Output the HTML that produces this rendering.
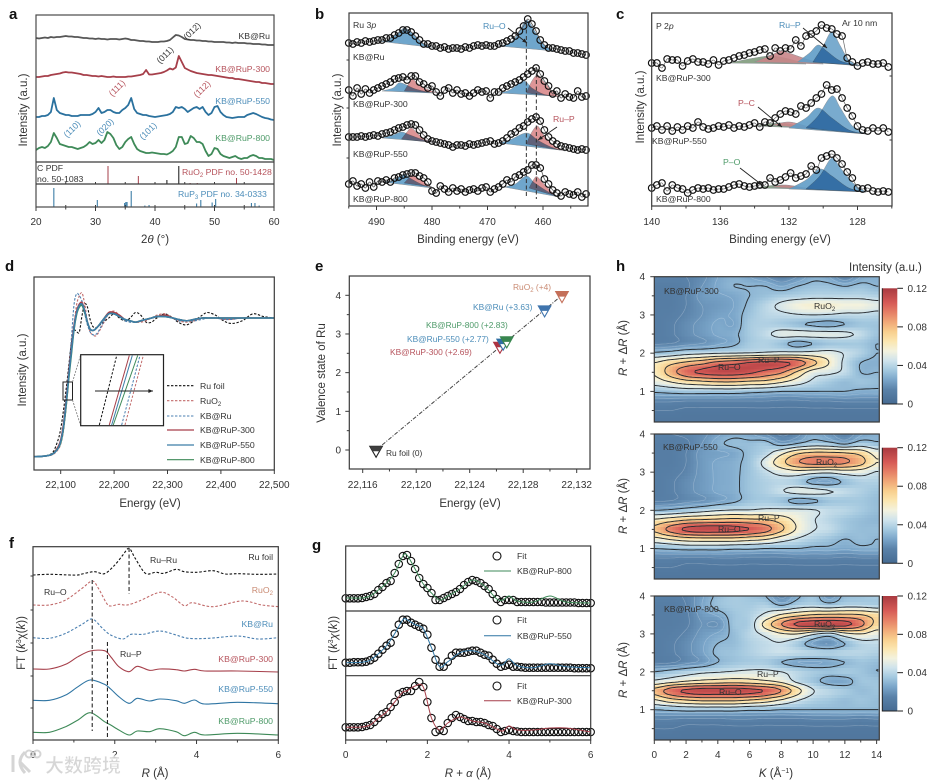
<!DOCTYPE html>
<html lang="en">
<head>
<meta charset="utf-8">
<title>Ru phosphide characterization panels</title>
<style>
html,body{margin:0;padding:0;background:#fff;width:934px;height:782px;overflow:hidden}
svg{display:block}
text{font-family:"Liberation Sans","Noto Sans CJK SC",sans-serif;fill:#333;font-size:10px}
.pl{font-size:15px;font-weight:bold;fill:#111}
.at{font-size:11.5px;fill:#333}
.lb{font-size:8.7px}
.lbe{font-size:8.4px}
.tk{font-size:10px;fill:#333}
.red{fill:#b6535c}.blu{fill:#4c8db9}.grn{fill:#4d9a68}.org{fill:#c98a72}
.it{font-style:italic}
</style>
</head>
<body>
<svg id="figure" xmlns="http://www.w3.org/2000/svg" width="934" height="782" viewBox="0 0 934 782">
<defs><linearGradient id="cbar" x1="0" y1="1" x2="0" y2="0"></linearGradient></defs>
<rect width="934" height="782" fill="#fff"/>
<g id="marks"></g>

<g>
<text class="pl" x="9" y="19">a</text>
<text class="pl" x="315" y="19">b</text>
<text class="pl" x="616" y="19">c</text>
<text class="pl" x="5" y="271">d</text>
<text class="pl" x="315" y="271">e</text>
<text class="pl" x="9" y="548">f</text>
<text class="pl" x="312" y="550">g</text>
<text class="pl" x="616" y="271">h</text>
</g>

<g>
<text class="at" transform="translate(27,110) rotate(-90)" text-anchor="middle">Intensity (a.u.)</text>
<text class="at" x="155" y="243" text-anchor="middle">2<tspan class="it">θ</tspan> (°)</text>
<text class="lb" x="270" y="39" text-anchor="end">KB@Ru</text>
<text class="lb red" x="270" y="72" text-anchor="end">KB@RuP-300</text>
<text class="lb blu" x="270" y="104" text-anchor="end">KB@RuP-550</text>
<text class="lb grn" x="270" y="141" text-anchor="end">KB@RuP-800</text>
<text class="lb" transform="translate(192,31) rotate(-45)" text-anchor="middle" dy="3">(012)</text>
<text class="lb" transform="translate(165,55) rotate(-45)" text-anchor="middle" dy="3">(011)</text>
<text class="lb red" transform="translate(117,88) rotate(-45)" text-anchor="middle" dy="3">(111)</text>
<text class="lb red" transform="translate(202,89) rotate(-45)" text-anchor="middle" dy="3">(112)</text>
<text class="lb blu" transform="translate(72,129) rotate(-45)" text-anchor="middle" dy="3">(110)</text>
<text class="lb blu" transform="translate(105,127) rotate(-45)" text-anchor="middle" dy="3">(020)</text>
<text class="lb blu" transform="translate(148,131) rotate(-45)" text-anchor="middle" dy="3">(101)</text>
<text class="lb" x="37" y="171">C PDF</text>
<text class="lb" x="37" y="182">no. 50-1083</text>
<text class="lb red" x="182" y="175">RuO<tspan font-size="6" dy="2">2</tspan><tspan dy="-2"> PDF no. 50-1428</tspan></text>
<text class="lb blu" x="178" y="197">RuP<tspan font-size="6" dy="2">3</tspan><tspan dy="-2"> PDF no. 34-0333</tspan></text>
</g>

<g>
<text class="at" transform="translate(341,110) rotate(-90)" text-anchor="middle">Intensity (a.u.)</text>
<text class="at" x="468" y="243" text-anchor="middle">Binding energy (eV)</text>
<text class="lb" x="353" y="28">Ru 3<tspan class="it">p</tspan></text>
<text class="lb" x="353" y="60">KB@Ru</text>
<text class="lb" x="353" y="107">KB@RuP-300</text>
<text class="lb" x="353" y="157">KB@RuP-550</text>
<text class="lb" x="353" y="202">KB@RuP-800</text>
<text class="lb blu" x="483" y="29">Ru–O</text>
<text class="lb red" x="553" y="122">Ru–P</text>
</g>

<g>
<text class="at" transform="translate(644,107) rotate(-90)" text-anchor="middle">Intensity (a.u.)</text>
<text class="at" x="780" y="243" text-anchor="middle">Binding energy (eV)</text>
<text class="lb" x="656" y="29">P 2<tspan class="it">p</tspan></text>
<text class="lb" x="656" y="81">KB@RuP-300</text>
<text class="lb" x="652" y="144">KB@RuP-550</text>
<text class="lb" x="656" y="202">KB@RuP-800</text>
<text class="lb blu" x="779" y="28">Ru–P</text>
<text class="lb" x="842" y="26">Ar 10 nm</text>
<text class="lb red" x="738" y="106">P–C</text>
<text class="lb grn" x="723" y="165">P–O</text>
</g>

<g>
<text class="at" transform="translate(26,370) rotate(-90)" text-anchor="middle">Intensity (a.u.)</text>
<text class="at" x="150" y="507" text-anchor="middle">Energy (eV)</text>
<text class="lb" x="200" y="389">Ru foil</text>
<text class="lb" x="200" y="404">RuO<tspan font-size="6" dy="2">2</tspan></text>
<text class="lb" x="200" y="419">KB@Ru</text>
<text class="lb" x="200" y="433">KB@RuP-300</text>
<text class="lb" x="200" y="448">KB@RuP-550</text>
<text class="lb" x="200" y="463">KB@RuP-800</text>
</g>

<g>
<text class="at" transform="translate(325,373) rotate(-90)" text-anchor="middle">Valence state of Ru</text>
<text class="at" x="470" y="507" text-anchor="middle">Energy (eV)</text>
<text class="lbe org" x="513" y="290">RuO<tspan font-size="6" dy="2">2</tspan><tspan dy="-2"> (+4)</tspan></text>
<text class="lbe blu" x="473" y="310">KB@Ru (+3.63)</text>
<text class="lbe grn" x="426" y="328">KB@RuP-800 (+2.83)</text>
<text class="lbe blu" x="407" y="342">KB@RuP-550 (+2.77)</text>
<text class="lbe red" x="390" y="355">KB@RuP-300 (+2.69)</text>
<text class="lbe" x="386" y="456">Ru foil (0)</text>
</g>

<g>
<text class="at" transform="translate(25,643) rotate(-90)" text-anchor="middle">FT (<tspan class="it">k</tspan><tspan font-size="7" dy="-4">3</tspan><tspan dy="4">χ(</tspan><tspan class="it">k</tspan>))</text>
<text class="at" x="155" y="777" text-anchor="middle"><tspan class="it">R</tspan> (Å)</text>
<text class="lb" x="273" y="560" text-anchor="end">Ru foil</text>
<text class="lb org" x="273" y="593" text-anchor="end">RuO<tspan font-size="6" dy="2">2</tspan></text>
<text class="lb blu" x="273" y="627" text-anchor="end">KB@Ru</text>
<text class="lb red" x="273" y="662" text-anchor="end">KB@RuP-300</text>
<text class="lb blu" x="273" y="692" text-anchor="end">KB@RuP-550</text>
<text class="lb grn" x="273" y="724" text-anchor="end">KB@RuP-800</text>
<text class="lb" x="150" y="563">Ru–Ru</text>
<text class="lb" x="44" y="595">Ru–O</text>
<text class="lb" x="120" y="657">Ru–P</text>
</g>

<g>
<text class="at" transform="translate(337,643) rotate(-90)" text-anchor="middle">FT (<tspan class="it">k</tspan><tspan font-size="7" dy="-4">3</tspan><tspan dy="4" class="it">χ</tspan>(<tspan class="it">k</tspan>))</text>
<text class="at" x="468" y="777" text-anchor="middle"><tspan class="it">R</tspan> + <tspan class="it">α</tspan> (Å)</text>
<text class="lb" x="517" y="559">Fit</text>
<text class="lb" x="517" y="574">KB@RuP-800</text>
<text class="lb" x="517" y="623">Fit</text>
<text class="lb" x="517" y="639">KB@RuP-550</text>
<text class="lb" x="517" y="689">Fit</text>
<text class="lb" x="517" y="704">KB@RuP-300</text>
</g>

<g id="h-text">
<text class="at" x="849" y="271">Intensity (a.u.)</text>
<text class="at" transform="translate(627,348) rotate(-90)" text-anchor="middle"><tspan class="it">R</tspan> + Δ<tspan class="it">R</tspan> (Å)</text>
<text class="at" transform="translate(627,506) rotate(-90)" text-anchor="middle"><tspan class="it">R</tspan> + Δ<tspan class="it">R</tspan> (Å)</text>
<text class="at" transform="translate(627,670) rotate(-90)" text-anchor="middle"><tspan class="it">R</tspan> + Δ<tspan class="it">R</tspan> (Å)</text>
<text class="at" x="776" y="777" text-anchor="middle"><tspan class="it">K</tspan> (Å<tspan font-size="7" dy="-4">−1</tspan><tspan dy="4">)</tspan></text>
<text class="lb" x="664" y="294" fill="#20303f">KB@RuP-300</text>
<text class="lb" x="718" y="370">Ru–O</text>
<text class="lb" x="758" y="363">Ru–P</text>
<text class="lb" x="814" y="309">RuO<tspan font-size="6" dy="2">2</tspan></text>
<text class="lb" x="663" y="450">KB@RuP-550</text>
<text class="lb" x="816" y="465">RuO<tspan font-size="6" dy="2">2</tspan></text>
<text class="lb" x="758" y="521">Ru–P</text>
<text class="lb" x="718" y="532">Ru–O</text>
<text class="lb" x="664" y="612">KB@RuP-800</text>
<text class="lb" x="814" y="627">RuO<tspan font-size="6" dy="2">2</tspan></text>
<text class="lb" x="757" y="677">Ru–P</text>
<text class="lb" x="719" y="695">Ru–O</text>
</g>

<g opacity="0.95">
<path d="M13 755 L13 772 M25 752 Q15 762 25 773 M20 762 L30 772" fill="none" stroke="#d3d3d3" stroke-width="3"/>
<circle cx="29" cy="754" r="3.5" fill="none" stroke="#d3d3d3" stroke-width="2"/>
<circle cx="37" cy="754" r="3.5" fill="none" stroke="#d3d3d3" stroke-width="2"/>
<text x="45" y="772" style="font-family:'Noto Sans CJK SC',sans-serif;font-size:19px;font-weight:bold;fill:#d4d4d4;stroke:#fff;stroke-width:.5">大数跨境</text>
</g>
</svg>

<script>
/* ---------- panel a: XRD ---------- */
const xrdAngleStart = 20;
const xrdAngleStep = 0.5;
const xrdRu = [124,123.5,124,124.5,124,125,124.5,125,125,125.5,126,125.5,125.5,125,125,124.5,124,124,123.5,123.5,123,123.5,123,123,122.5,123,123,123,122.5,123,123.5,123,122,122,121.5,121,121,120.5,120.5,120,120,120,120.5,120.5,121,122,124.5,127,126.5,125,123,122.5,122,122,121.5,121.5,121,121,120.5,120.5,120,120,120,120,119.5,119.5,119,119.5,119,119,119,118.5,118.5,118,118,118,117.5,117.5,117,117,117];
const xrd300 = [85,85,85.5,86,86,87,87.5,88,88.5,89.5,90,89.5,89.5,89,88.5,88,87,87,86.5,86,86,85.5,86,85.5,85,85,85.5,85,85,85,85,85.5,85.5,86,86.5,87,88,92,87.5,87.5,88,88.5,89,90,91.5,93.5,92.5,94.5,106,100,94,92.5,91,90,89,88.5,88,87.5,87,87,86.5,86,85.5,85,84.5,84,84,83,83,82.5,82,81.5,81,80.5,80,80,79,79,78.5,78,78];
const xrd550 = [45,45,46,46,47,50,64,52,49,48,47,47,46,46,46,47,47,47,47,48,50,54,49,50,52,52,50,49,49,52,54,57,64,53,49,48,47,47,46,45.5,45,45.5,46,46.5,47,48,50,55,54,55,53,50,52,54,55,53,55,50,47,49,55,56,50,47,45,44.5,44,44.5,45,45,45,47,48,49,48,46.5,45,44,43.5,42.5,42];
const xrd800 = [12,14,15,14,16,20,29,24,18,17,16,15,15,14,13,14,15,17,20,18,19,22,19,22,30,28,24,17,13,15,20,23,25,18,13,11,10,9,9,9.5,9,8.5,8,8,7.5,9,11,15,25,25,18,19,26,24,20,20,18,11,6,8,14,13,8,6,5,4,5,6,4,3,4,4,6,7,6,4,4,3,3,3,2];
const ruo2Angles = [32.1,37.2,53.7,45.9,47.1];
const ruo2Heights = [18,8,6,1,1];
const carbonAngles = [42,44];
const carbonHeights = [4,18];
const rup3Angles = [23,30.3,34.9,35.1,35.3,36,38.3,39,47,47.7,49.6,50.2,56.2,56.8,57.5];
const rup3Heights = [19,7,4,5,5,16,1.5,2,3.5,7,4.5,8,4,4,1.5];
const xrdTicks = [20,30,40,50,60];
const xrdMinor = [25,35,45,55];

/* ---------- panel b: Ru 3p XPS ---------- */
const beStart = 495;
const beStep = 0.75;
const xpsRu = [163,162,164,163,165,164,165,166,166,168,168,171,173,176,176,174,170,166,162,162,160,160,158,159,157,158,158,157,159,158,160,161,160,161,160,160,162,163,165,167,170,175,180,187,182,175,166,161,158,158,157,156,155,155,153,153,152,151];
const xps300 = [116,110,118,112,117,113,116,118,120,122,124,127,128,129,126,130,130,124,122,118,120,114,110,116,118,113,116,112,113,110,113,116,114,115,108,114,114,118,120,122,124,126,129,132,135,138,132,125,120,112,115,108,112,109,108,115,109,110];
const xps550 = [69,69,69,70,69,70,71,70,72,73,74,76,78,79,81,82,81,76,71,67,65,64,63,62,61,59,61,61,60,62,61,62,63,64,65,62,63,65,68,72,74,78,80,84,87,89,85,76,69,65,62,60,59,58,57,56,57,56];
const xps800 = [22,25,20,22,18,24,19,25,24,26,24,28,29,31,32,33,33,30,28,24,15,13,20,17,14,18,15,17,14,16,17,15,18,19,14,17,19,22,26,24,29,31,34,36,41,41,38,27,22,16,13,10,14,12,11,14,9,12];
const bBlueBE = [[490,488,486,485,484,482,480,479],[468,466,464.5,463,461.5,460,458],[489,487,486,485,483,480],[468,466,463.5,462,460,458],[489,487,485.5,484,482,480],[468,466,463,461,459,457],[489,487,485,484,482,480],[467,465,463,461.5,459,457]];
const bBlueVal = [[165,166,174,178,175,164,159,158],[160,163,172,186,175,162,155],[115,118,123,122,117,113],[113,116,125,118,112,110],[68,71,74,71,67,64],[63,66,73,66,60,56],[24,26,32,28,22,18],[19,22,30,23,14,9]];
const bRedBE = [[485,484,483.5,482,480,478],[463,462,461,460,458,457],[485.5,484.5,483.7,482.5,481,479],[463,462,461,460,458,456],[485,484,483.5,482,480],[462.5,461.5,461,460,458,457]];
const bRedVal = [[115,124,127,120,115,113],[113,125,131,125,113,109],[67,74,78,72,66,63],[62,74,80,72,60,55],[23,29,31,26,19],[18,28,29,23,12,9]];
const bTicks = [490,480,470,460];
const bMinor = [495,485,475,465,455];
const bGuides = [463,461.2];

/* ---------- panel c: P 2p XPS ---------- */
const pbeStart = 140;
const pbeStep = 0.3;
const p2p300 = [143,143,138,147,146,146,140,145,147,144,144,142,146,141,145,146,148,150,151,153,154,156,157,150,158,155,158,157,166,160,170,172,175,181,178,177,172,170,148,144,140,143,144,142,142,143,139];
const p2p550 = [78,80,76,80,75,79,76,80,78,84,79,77,78,80,79,81,78,80,79,81,83,79,84,83,88,92,95,94,92,100,98,103,108,112,121,116,117,108,98,90,80,76,75,78,75,78,74];
const p2p800 = [18,21,23,15,21,18,17,13,16,18,17,18,16,17,17,19,21,22,20,19,20,21,21,28,24,26,29,33,28,30,32,40,36,48,50,52,48,42,34,28,18,17,18,15,14,15,14];
const cGreenBE = [[135.5,134,133,132,131],[134,132.5,131],[134,132.5,131]];
const cGreenVal = [[143,148,150,147,142],[80,83,78],[18,21,17]];
const cRedBE = [[134,133,132.5,132,131,130],[133,132,131,130],[133,132.2,131,130]];
const cRedVal = [[144,151,155,153,147,142],[81,84,80,76],[19,21,18,16]];
const cBlue1BE = [[131.5,130.8,130.3,129.8,129,128],[132,131,130.3,129.5,128.5,127.5],[132,131,130.2,129.5,128.5,127.5]];
const cBlue1Val = [[144,153,161,155,145,141],[78,88,98,88,76,72],[17,26,37,30,18,14]];
const cBlue2BE = [[130.6,130,129.5,129,128.5,127.8],[131,130.3,129.5,129,128.3,127.5],[131,130.2,129.5,129,128.2,127.5]];
const cBlue2Val = [[144,160,174,160,146,140],[78,90,110,98,80,72],[17,30,48,38,22,14]];
const cTicks = [140,136,132,128];
const cMinor = [138,134,130,126];

/* ---------- panel d: XANES ---------- */
const xanesE = [22050,22070,22085,22095,22100,22105,22110,22115,22120,22125,22130,22135,22140,22145,22150,22155,22160,22165,22170,22180,22190,22200,22210,22220,22230,22240,22250,22260,22270,22280,22295,22310,22320,22335,22350,22365,22375,22390,22405,22420,22440,22460,22480,22500];
const xanesFoil = [0,.005,.03,.12,.2,.33,.48,.65,.82,.91,.9,.9,1.02,1.1,1.08,.99,.94,.93,.94,.97,1,1.03,1,.98,1,1.04,1.02,.97,.97,1,1.03,1,.97,.95,.98,1.02,1.04,1.02,.98,.96,.98,1.03,1.01,1];
const xanesRuO2 = [0,.003,.015,.05,.09,.18,.34,.55,.75,.95,1.1,1.16,1.18,1.1,.98,.9,.88,.87,.89,.96,1.03,1.05,1.02,.99,.98,.97,.97,.98,1,1.02,1.03,1,.98,.97,.98,1,1,1,.99,.99,1,1,1,1];
const xanesKBRu = [0,.003,.02,.06,.1,.2,.38,.62,.85,1.1,1.175,1.16,1.12,1.03,.95,.9,.88,.88,.9,.97,1.03,1.04,1.01,.98,.97,.97,.98,.99,1,1.01,1.02,1,.98,.98,.98,.99,1,1,.99,.99,1,1,1,1];
const xanes300 = [0,.004,.02,.07,.12,.23,.4,.6,.78,.95,1.05,1.1,1.11,1.05,.97,.92,.91,.92,.94,.99,1.04,1.04,1.02,.99,.98,.97,.98,.99,1,1.01,1.02,1,.99,.98,.99,1,1,1,1,1,1,1,1,1];
const xanes550 = [0,.004,.02,.06,.11,.21,.38,.58,.76,.93,1.04,1.09,1.1,1.05,.97,.92,.91,.92,.94,.99,1.03,1.03,1.01,.99,.98,.97,.98,.99,1,1.01,1.01,1,.99,.98,.99,1,1,1,1,1,1,1,1,1];
const xanes800 = [0,.004,.02,.06,.1,.2,.36,.56,.74,.92,1.03,1.08,1.09,1.04,.97,.92,.91,.92,.94,.99,1.03,1.03,1.01,.99,.98,.97,.98,.99,1,1.01,1.01,1,.99,.98,.99,1,1,1,1,1,1,1,1,1];
const insetLowE = [22110.25,22113.35,22112.95,22111.45,22111.74,22111.93];
const insetHighE = [22112.35,22115.56,22115.16,22113.87,22114.23,22114.88];
const dTicks = [22100,22200,22300,22400,22500];

/* ---------- panel e: valence ---------- */
const valenceNames = ['ru-foil','kb-rup-300','kb-rup-550','kb-rup-800','kb-ru','ruo2'];
const valenceE = [22117,22126.26,22126.5,22126.77,22129.6,22130.9];
const valenceState = [0,2.69,2.77,2.83,3.63,4];
const eXTicks = [22116,22120,22124,22128,22132];
const eYTicks = [0,1,2,3,4];

/* ---------- panel f: FT-EXAFS ---------- */
const rFoil = [0,.4,.9,1.1,1.2,1.5,1.75,2,2.2,2.35,2.5,2.75,3,3.2,3.5,3.7,4,4.4,4.7,5,5.5,6];
const ftFoil = [150,148,150,150,147,140,146,120,90,70,100,145,142,145,133,140,142,137,147,146,148,147];
const rRuO2 = [0,.4,.8,1.2,1.45,1.6,1.8,1.9,2.1,2.3,2.6,3.1,3.4,3.7,3.9,4.4,5.1,5.6,6];
const ftRuO2 = [240,240,225,190,168,190,235,243,238,240,228,202,215,242,233,245,228,240,245];
const rKBRu = [0,.4,.8,1.2,1.45,1.7,1.9,2.2,2.4,2.7,3.1,3.5,3.8,4.3,5,5.5,6];
const ftKBRu = [338,340,325,298,282,310,330,342,328,328,318,330,340,340,333,342,338];
const rRuP = [0,.4,.8,1.1,1.4,1.75,1.9,2.1,2.35,2.55,2.85,3.1,3.5,3.7,3.95,4.2,5,6];
const ft300 = [432,432,418,395,378,377,395,425,440,424,436,432,434,438,433,438,438,441];
const ft550 = [526,526,510,485,465,478,492,515,535,520,528,522,527,535,525,537,532,536];
const ft800 = [622,622,605,585,563,590,600,615,630,618,620,611,620,632,622,630,625,630];
const fTicks = [0,2,4,6];
const fMinor = [1,3,5];
const fGuides = [1.45,1.82,2.35];

/* ---------- panel g: EXAFS fits ---------- */
const gRStep = 0.1;
const gData800 = [12.7,12.7,12.7,12.7,13,14,15,17,21,24,28,30,38,47,55,56,50,42,33,27,23,18,11,11,13,15,17,19,22,26,29,31,30,28,25,22,17,12,9,11,11,11,9,9,9,9,9,9,9,8.5,8.5,8.5,8.5,8.5,8.5,8.5,8.5,8,8,8,8];
const gData550 = [13,13,13.5,13.5,13.5,14,15.5,18,22,26,30,33,42,51,56,56,53,51,49,47,41,28,16,9,9,14,20,23,23,23,24,25,25,23,21,20,16,12,9,10,11,9,9,8.5,8,8,8,8,8,8,8,8,8,8,8,8,7.5,7.5,7.5,7.5,7.5];
const gData300 = [12.7,12.7,12.7,12.7,13,14,15,18,22,26,28,33,38,46,48,49,49,54,58,53,38,22,8,10,9,17,22,25,23,21,19,19,18,18,17,15,14,11,8,9,10,9,8.5,8,8,8,8,8,8,8,8,8,8,8,8,8,8,8,8,8,8];
const gFitR = [0,.4,.6,.8,1,1.2,1.4,1.5,1.7,1.9,2.1,2.3,2.5,2.8,3.1,3.4,3.7,3.85,4,4.2,4.6,5,5.4,6];
const gFit800 = [13,13,15,21,28,38,55,56,42,27,18,11,15,22,31,25,12,11,15,10,9,15,9,8];
const gFit550 = [13,13.5,15.5,22,30,42,56,56,51,47,28,9,14,23,25,21,12,11,17,10,8,12,9,8];
const gFit300 = [12.7,13,15,22,28,38,48,49,54,53,22,10,17,23,19,17,11,9,14,10,10,12,12,8];

/* ---------- panel h: wavelet maps (rows R = 4.00 … 0.25, columns k = 0 … 14; units of 0.001) ---------- */
const map300 = [
[15,15,15,18,25,28,25,20,15,20,28,25,15,25,28],
[12,12,14,20,26,30,30,30,25,30,33,33,30,33,30],
[12,12,15,22,24,26,30,33,36,38,40,40,40,40,38],
[12,12,15,20,22,25,32,40,48,55,58,58,55,55,50],
[12,13,16,20,24,26,34,40,42,44,45,44,42,42,40],
[12,14,18,22,26,25,36,38,36,32,28,26,30,34,34],
[12,14,18,22,26,28,36,42,50,50,50,50,48,42,34],
[14,15,18,20,24,28,36,38,33,26,30,34,35,35,30],
[32,35,40,42,44,45,46,48,50,50,50,50,44,38,30],
[60,70,78,85,95,100,106,110,108,100,80,60,42,30,28],
[62,82,100,108,112,112,108,100,92,72,52,48,42,30,30],
[52,60,68,72,75,75,72,70,62,52,42,36,32,34,32],
[32,34,36,36,36,36,34,32,30,30,30,30,30,28,28],
[16,16,15,15,15,15,15,15,14,14,15,15,16,16,16],
[10,10,9,9,9,9,9,9,9,9,9,9,9,9,9],
[8,8,8,8,8,8,8,8,8,8,8,8,8,8,8]];
const map550 = [
[15,15,16,18,24,28,26,20,14,18,28,22,15,24,28],
[12,12,14,20,28,32,32,34,24,30,36,34,28,36,32],
[12,12,15,22,24,26,33,40,56,72,78,78,76,70,54],
[12,12,15,22,26,28,34,50,70,88,95,95,92,80,60],
[12,13,16,22,26,28,34,42,50,54,50,48,52,52,44],
[12,14,18,22,26,28,34,38,40,36,26,24,32,38,38],
[12,14,18,22,26,28,34,38,44,50,50,46,42,38,34],
[14,15,18,20,24,28,34,36,33,26,28,34,35,35,32],
[30,32,36,40,44,46,46,48,48,48,46,42,40,36,32],
[62,68,74,76,78,80,78,76,68,56,46,40,35,32,30],
[78,95,108,112,112,110,105,96,78,58,46,42,35,32,32],
[55,62,68,70,70,70,66,62,52,44,38,34,30,32,30],
[30,32,34,34,34,32,32,30,30,30,28,28,26,28,28],
[15,15,14,14,15,15,14,14,14,15,15,15,14,15,15],
[10,10,9,9,9,9,9,9,9,9,9,9,9,9,9],
[8,8,8,8,8,8,8,8,8,8,8,8,8,8,8]];
const map800 = [
[14,14,16,24,32,36,34,30,18,28,34,22,32,34,36],
[12,12,15,25,33,36,36,38,30,38,40,36,40,40,38],
[12,12,14,22,26,34,38,48,62,70,76,78,78,76,68],
[12,12,14,20,20,34,38,66,90,108,112,112,110,95,70],
[12,13,16,22,26,32,40,48,58,60,48,40,55,60,52],
[12,14,18,24,30,32,38,42,44,36,24,20,30,40,42],
[12,14,18,24,32,34,38,42,44,42,40,38,40,40,38],
[13,14,18,22,30,34,36,36,30,25,24,26,30,34,32],
[30,34,38,42,44,46,48,48,45,40,36,34,36,34,30],
[48,54,60,64,66,68,66,62,56,42,34,26,26,34,34],
[80,98,108,112,112,112,110,104,90,66,46,40,36,32,34],
[58,68,74,78,78,78,74,68,58,46,38,35,32,34,32],
[30,32,34,34,34,34,32,32,30,30,30,30,30,30,30],
[15,15,14,14,14,15,15,14,14,14,15,15,15,14,15],
[10,10,9,9,9,9,9,9,9,9,9,9,9,9,9],
[8,8,8,8,8,8,8,8,8,8,8,8,8,8,8]];
const hXTicks = [0,2,4,6,8,10,12,14];
const hYTicks = [1,2,3,4];
const cbarTicks = [0,0.04,0.08,0.12];
const darkLevels = [30,45,60,75,90,105];
const lightLevels = [10,15,20,25];
const cmapValues = [0,15,25,35,45,55,65,75,85,95,105,120];
const cmapColors = ['#466b92','#5a82a9','#7aa5c9','#a3c8df','#cfe3ec','#f3f2de','#fbe6b0','#f8cf8e','#f0a878','#e57f66','#d65a56','#a93a40'];

/* ---------- drawing helpers ---------- */
const NS = 'http://www.w3.org/2000/svg';
const marks = document.getElementById('marks');
function el(tag, attrs, name, parent) {
  const e = document.createElementNS(NS, tag);
  for (const k in attrs) e.setAttribute(k, attrs[k]);
  
  
  (parent || marks).appendChild(e);
  return e;
}
function group(name) { return el('g', {}, name); }
function linear(d0, d1, r0, r1) { return v => r0 + (v - d0) / (d1 - d0) * (r1 - r0); }
function f1(v) { return v.toFixed(1); }
function polyD(pts) { return pts.map((p, i) => (i ? 'L' : 'M') + f1(p[0]) + ' ' + f1(p[1])).join(''); }
function smoothD(pts) {
  let d = 'M' + f1(pts[0][0]) + ' ' + f1(pts[0][1]);
  for (let i = 0; i < pts.length - 1; i++) {
    const p0 = pts[Math.max(i - 1, 0)], p1 = pts[i], p2 = pts[i + 1], p3 = pts[Math.min(i + 2, pts.length - 1)];
    const t = 0.16;
    d += 'C' + f1(p1[0] + (p2[0] - p0[0]) * t) + ' ' + f1(p1[1] + (p2[1] - p0[1]) * t) + ' ' +
         f1(p2[0] - (p3[0] - p1[0]) * t) + ' ' + f1(p2[1] - (p3[1] - p1[1]) * t) + ' ' + f1(p2[0]) + ' ' + f1(p2[1]);
  }
  return d;
}
function zip(xs, ys, sx, sy) { return xs.map((x, i) => [sx(x), sy(ys[i])]); }
function frame(x0, y0, x1, y1, name, stroke) {
  return el('rect', {x: x0, y: y0, width: x1 - x0, height: y1 - y0, fill: 'none', stroke: stroke || '#3a3a3a', 'stroke-width': 1.2}, name);
}
function hLine(x0, x1, y, name) { el('line', {x1: x0, x2: x1, y1: y, y2: y, stroke: '#3a3a3a', 'stroke-width': 1.2}, name); }
function tickLabel(x, y, str, anchor, name, parent) {
  const t = el('text', {x: x, y: y, 'text-anchor': anchor, class: 'tk'}, name, parent);
  t.textContent = str;
}
function xAxis(scale, y, majors, minors, labelY, fmt, prefix) {
  const g = group(prefix + '-x-axis');
  majors.forEach(v => {
    el('line', {x1: scale(v), x2: scale(v), y1: y, y2: y + 4, stroke: '#3a3a3a', 'stroke-width': 1}, prefix + '-x-tick', g);
    tickLabel(scale(v), labelY, fmt(v), 'middle', prefix + '-x-tick-label', g);
  });
  minors.forEach(v => {
    el('line', {x1: scale(v), x2: scale(v), y1: y, y2: y + 2.5, stroke: '#3a3a3a', 'stroke-width': 1}, prefix + '-x-minor-tick', g);
  });
}
function yTicks(scale, x, majors, minors, labelX, fmt, prefix) {
  const g = group(prefix + '-y-axis');
  majors.forEach(v => {
    el('line', {x1: x - 4, x2: x, y1: scale(v), y2: scale(v), stroke: '#3a3a3a', 'stroke-width': 1}, prefix + '-y-tick', g);
    if (fmt) tickLabel(labelX, scale(v) + 3.5, fmt(v), 'end', prefix + '-y-tick-label', g);
  });
  minors.forEach(v => {
    el('line', {x1: x - 2.5, x2: x, y1: scale(v), y2: scale(v), stroke: '#3a3a3a', 'stroke-width': 1}, prefix + '-y-minor-tick', g);
  });
}
function arrow(x0, y0, x1, y1, name, col) {
  const g = group(name);
  const c = col || '#222';
  el('line', {x1: x0, y1: y0, x2: x1, y2: y1, stroke: c, 'stroke-width': 0.9}, name + '-shaft', g);
  const a = Math.atan2(y1 - y0, x1 - x0), s = 5;
  const pts = [[x1, y1], [x1 - s * Math.cos(a - .4), y1 - s * Math.sin(a - .4)], [x1 - s * Math.cos(a + .4), y1 - s * Math.sin(a + .4)]];
  el('polygon', {points: pts.map(p => p.join(',')).join(' '), fill: c}, name + '-head', g);
}
const identity = v => String(v);

/* ---------- panel a ---------- */
(function () {
  const sx = linear(20, 60, 36, 274);
  const sy = v => 162 - v;
  const angles = xrdRu.map((_, i) => xrdAngleStart + i * xrdAngleStep);
  const g = group('xrd-series');
  [[xrdRu, '#565656', 'ru'], [xrd300, '#a63f4a', '300'], [xrd550, '#2a719e', '550'], [xrd800, '#3e8a58', '800']].forEach(s => {
    el('path', {d: polyD(zip(angles, s[0], sx, sy)), fill: 'none', stroke: s[1], 'stroke-width': 1.8, 'stroke-linejoin': 'round'}, 'xrd-line-' + s[2], g);
  });
  frame(36, 15, 274, 207, 'a-frame', '#4a4a4a');
  hLine(36, 274, 162, 'a-divider-1');
  hLine(36, 274, 184, 'a-divider-2');
  const sticks = (angs, hs, base, col, name) => angs.forEach((a, i) => {
    el('line', {x1: sx(a), x2: sx(a), y1: base, y2: base - hs[i], stroke: col, 'stroke-width': 1}, name, g);
  });
  sticks(ruo2Angles, ruo2Heights, 184, '#a63f4a', 'ruo2-stick');
  sticks(carbonAngles, carbonHeights, 184, '#111', 'carbon-stick');
  sticks(rup3Angles, rup3Heights, 207, '#2a719e', 'rup3-stick');
  xAxis(sx, 207, xrdTicks, xrdMinor, 225, identity, 'a');
  [184, 207].forEach(b => xrdMinor.concat(xrdTicks).forEach(v => {
    el('line', {x1: sx(v), x2: sx(v), y1: b, y2: b - 2, stroke: '#3a3a3a', 'stroke-width': 1}, 'a-inner-tick', g);
  }));
})();

/* ---------- spectra helpers ---------- */
function area(xs, vs, sx, sy, fill, name, parent, blend) {
  const pts = zip(xs, vs, sx, sy);
  const e = el('path', {d: smoothD(pts) + 'Z', fill: fill, stroke: '#8a8f94', 'stroke-width': 0.5, 'fill-opacity': 0.9}, name, parent);
  if (blend) e.setAttribute('style', 'mix-blend-mode:multiply');
}
function circles(xs, vs, sx, sy, r, name, parent) {
  xs.forEach((x, i) => {
    el('circle', {cx: sx(x), cy: sy(vs[i]), r: r, fill: 'none', stroke: '#111', 'stroke-width': 1.15}, name, parent);
  });
}

/* ---------- panel b ---------- */
(function () {
  const sx = linear(460, 490, 543, 376.5);
  const sy = v => 206 - v;
  const g = group('ru3p-components');
  bBlueBE.forEach((b, i) => area(b, bBlueVal[i], sx, sy, '#5f9cc6', 'ru-o-component', g));
  bRedBE.forEach((b, i) => area(b, bRedVal[i], sx, sy, '#d98a8c', 'ru-p-component', g, true));
  const c = group('ru3p-data');
  const xs = xpsRu.map((_, i) => beStart - i * beStep);
  [xpsRu, xps300, xps550, xps800].forEach(s => {
    el('path', {d: smoothD(zip(xs, s, sx, sy)), fill: 'none', stroke: '#555', 'stroke-width': 0.8}, 'ru3p-fit-line', c);
    circles(xs, s, sx, sy, 3.3, 'ru3p-point', c);
  });
  const guideTop = [23, 67];
  bGuides.forEach((b, i) => {
    el('line', {x1: sx(b), x2: sx(b), y1: guideTop[i], y2: i ? 199 : 197, stroke: '#333', 'stroke-width': 1, 'stroke-dasharray': '4 2.5'}, 'ru3p-guide', c);
  });
  arrow(508, 28, 527, 43, 'ru-o-arrow');
  arrow(557, 127, 538, 140, 'ru-p-arrow');
  frame(349, 13, 588, 206, 'b-frame');
  xAxis(sx, 206, bTicks, bMinor, 225, identity, 'b');
  yTicks(v => v, 349, [], [60, 108, 158], 0, null, 'b');
})();

/* ---------- panel c ---------- */
(function () {
  const sx = linear(140, 128, 651.7, 857.5);
  const sy = v => 206 - v;
  const g = group('p2p-components');
  cGreenBE.forEach((b, i) => area(b, cGreenVal[i], sx, sy, '#7f9b7c', 'p-o-component', g));
  cRedBE.forEach((b, i) => area(b, cRedVal[i], sx, sy, '#c98588', 'p-c-component', g));
  cBlue1BE.forEach((b, i) => area(b, cBlue1Val[i], sx, sy, '#5f9cc6', 'ru-p-component-a', g));
  cBlue2BE.forEach((b, i) => area(b, cBlue2Val[i], sx, sy, '#6aa2c9', 'ru-p-component-b', g, true));
  const c = group('p2p-data');
  const xs = p2p300.map((_, i) => pbeStart - i * pbeStep);
  [p2p300, p2p550, p2p800].forEach(s => {
    el('path', {d: smoothD(zip(xs, s, sx, sy)), fill: 'none', stroke: '#666', 'stroke-width': 0.7}, 'p2p-fit-line', c);
    circles(xs, s, sx, sy, 3.3, 'p2p-point', c);
  });
  arrow(803, 28, 827, 48, 'c-ru-p-arrow');
  arrow(758, 107, 782, 127, 'c-p-c-arrow');
  arrow(740, 168, 762, 185, 'c-p-o-arrow');
  frame(651.7, 13, 892, 206, 'c-frame');
  xAxis(sx, 206, cTicks, cMinor, 225, identity, 'c');
  yTicks(v => v, 892, [], [76, 140], 0, null, 'c');
})();

/* ---------- panel d ---------- */
(function () {
  const sx = linear(22100, 22500, 60.7, 274.3);
  const sy = linear(0, 1, 456.7, 318);
  const styles = [
    [xanesFoil, '#111', '2.4 1.6', 'ru-foil'], [xanesRuO2, '#c26b6b', '2.4 1.6', 'ruo2'], [xanesKBRu, '#4a7fb0', '2.4 1.6', 'kb-ru'],
    [xanes300, '#a63f4a', '', 'kb-rup-300'], [xanes800, '#3e8a58', '', 'kb-rup-800'], [xanes550, '#3c7ea8', '', 'kb-rup-550']];
  const g = group('xanes-series');
  styles.forEach(s => {
    const o = {d: smoothD(zip(xanesE, s[0], sx, sy)), fill: 'none', stroke: s[1], 'stroke-width': s[2] ? 1.1 : 1.6};
    if (s[2]) o['stroke-dasharray'] = s[2];
    el('path', o, 'xanes-line-' + s[3], g);
  });
  frame(34, 277, 274.3, 470, 'd-frame');
  xAxis(sx, 470, dTicks, [], 488, v => v.toLocaleString('en-US'), 'd');
  /* inset */
  const ins = group('xanes-inset');
  el('rect', {x: 63, y: 382, width: 9.5, height: 18, fill: 'none', stroke: '#222', 'stroke-width': 1}, 'inset-source-box', ins);
  el('line', {x1: 72.5, y1: 382, x2: 80.7, y2: 354.7, stroke: '#777', 'stroke-width': .8, 'stroke-dasharray': '2 1.2'}, 'inset-connector-top', ins);
  el('line', {x1: 72.5, y1: 400, x2: 80.7, y2: 425.7, stroke: '#777', 'stroke-width': .8, 'stroke-dasharray': '2 1.2'}, 'inset-connector-bottom', ins);
  el('rect', {x: 80.7, y: 354.7, width: 82.8, height: 71, fill: '#fff', stroke: '#222', 'stroke-width': 1.2}, 'inset-frame', ins);
  const ix = linear(22108, 22118, 80.7, 163.5);
  const insetColors = ['#111', '#c26b6b', '#4a7fb0', '#a63f4a', '#3c7ea8', '#3e8a58'];
  const insetDash = ['2.4 1.6', '2.4 1.6', '2.4 1.6', '', '', ''];
  insetLowE.forEach((e, i) => {
    const o = {x1: ix(e), y1: 425, x2: ix(insetHighE[i]), y2: 355.5, stroke: insetColors[i], 'stroke-width': 1};
    if (insetDash[i]) o['stroke-dasharray'] = insetDash[i];
    el('line', o, 'inset-curve', ins);
  });
  arrow(95, 391, 153, 391, 'inset-arrow', '#222');
  /* legend */
  const lg = group('xanes-legend');
  const legY = [385.7, 400.7, 416, 430, 445, 459.7];
  insetColors.slice(0, 3).concat(['#a63f4a', '#3c7ea8', '#3e8a58']).forEach((c, i) => {
    const o = {x1: 167, x2: 194, y1: legY[i], y2: legY[i], stroke: c, 'stroke-width': i < 3 ? 1.1 : 1.2};
    if (i < 3) o['stroke-dasharray'] = '2.4 1.6';
    el('line', o, 'legend-line', lg);
  });
})();

/* ---------- panel e ---------- */
(function () {
  const sx = linear(22116, 22132, 362.7, 576.7);
  const sy = linear(0, 4, 450, 295.3);
  const colors = ['#3f3f3f', '#ad3341', '#2f6ea3', '#38864f', '#3f74ad', '#c46f59'];
  frame(349.3, 276, 590, 469, 'e-frame');
  const g = group('valence-series');
  el('line', {x1: sx(valenceE[0]), y1: sy(valenceState[0]), x2: sx(valenceE[5]), y2: sy(valenceState[5]), stroke: '#444', 'stroke-width': 1, 'stroke-dasharray': '4 1.5 1 1.5'}, 'valence-fit-line', g);
  valenceE.forEach((e, i) => {
    const x = sx(e), y = sy(valenceState[i]);
    el('polygon', {points: (x - 6.3) + ',' + (y - 3.7) + ' ' + (x + 6.3) + ',' + (y - 3.7) + ' ' + x + ',' + (y + 7.3), fill: '#fff', stroke: i ? colors[i] : '#222', 'stroke-width': 1.1}, 'valence-marker-' + valenceNames[i], g);
    el('polygon', {points: (x - 6.3) + ',' + (y - 3.7) + ' ' + (x + 6.3) + ',' + (y - 3.7) + ' ' + (x + 3.4) + ',' + (y + 1.3) + ' ' + (x - 3.4) + ',' + (y + 1.3), fill: colors[i]}, 'valence-marker-fill-' + valenceNames[i], g);
  });
  xAxis(sx, 469, eXTicks, [22118, 22122, 22126, 22130], 488, v => v.toLocaleString('en-US'), 'e');
  yTicks(sy, 349.3, eYTicks, [.5, 1.5, 2.5, 3.5], 341, identity, 'e');
})();

/* ---------- panel f ---------- */
(function () {
  const sx = linear(0, 6, 33, 278.3);
  const sy = v => 525 + v / 3;
  const series = [
    [rFoil, ftFoil, '#111', true, 'ru-foil'], [rRuO2, ftRuO2, '#c26b6b', true, 'ruo2'], [rKBRu, ftKBRu, '#4a7fb0', true, 'kb-ru'],
    [rRuP, ft300, '#a63f4a', false, 'kb-rup-300'], [rRuP, ft550, '#2f75a3', false, 'kb-rup-550'], [rRuP, ft800, '#3e8a58', false, 'kb-rup-800']];
  const g = group('ft-series');
  series.forEach(s => {
    const o = {d: smoothD(zip(s[0], s[1], sx, sy)), fill: 'none', stroke: s[2], 'stroke-width': 1.1};
    if (s[3]) o['stroke-dasharray'] = '2.6 1.8';
    el('path', o, 'ft-line-' + s[4], g);
  });
  const tops = [580, 642, 548];
  const bots = [731, 738, 594];
  fGuides.forEach((r, i) => {
    el('line', {x1: sx(r), x2: sx(r), y1: tops[i], y2: bots[i], stroke: i === 1 ? '#111' : '#555', 'stroke-width': i === 1 ? 1 : 1.4, 'stroke-dasharray': '4 2.5'}, 'ft-guide', g);
  });
  frame(33, 546.7, 278.3, 740, 'f-frame');
  xAxis(sx, 740, fTicks, fMinor, 758, identity, 'f');
  yTicks(v => v, 33, [], [576, 610, 643, 676, 708], 0, null, 'f');
})();

/* ---------- panel g ---------- */
(function () {
  const sx = linear(0, 6, 345.7, 590.7);
  const bottoms = [611, 675.7, 740];
  const data = [gData800, gData550, gData300];
  const fits = [gFit800, gFit550, gFit300];
  const cols = ['#3e8a58', '#2f75a3', '#a63f4a'];
  const names = ['kb-rup-800', 'kb-rup-550', 'kb-rup-300'];
  const legCircle = [556, 620, 686];
  const legLine = [571, 635.7, 700.7];
  const g = group('exafs-fits');
  data.forEach((d, i) => {
    const sy = v => bottoms[i] - v;
    const rs = d.map((_, j) => j * gRStep);
    circles(rs, d, sx, sy, 3.7, 'exafs-point-' + names[i], g);
    el('path', {d: smoothD(zip(gFitR, fits[i], sx, sy)), fill: 'none', stroke: cols[i], 'stroke-width': 1}, 'exafs-fit-' + names[i], g);
    el('circle', {cx: 497, cy: legCircle[i], r: 4, fill: 'none', stroke: '#111', 'stroke-width': 1.1}, 'exafs-legend-circle', g);
    el('line', {x1: 484, x2: 511, y1: legLine[i], y2: legLine[i], stroke: cols[i], 'stroke-width': 1}, 'exafs-legend-line', g);
  });
  frame(345.7, 546, 590.7, 740, 'g-frame');
  hLine(345.7, 590.7, 611, 'g-divider-1');
  hLine(345.7, 590.7, 675.7, 'g-divider-2');
  xAxis(sx, 740, fTicks, fMinor, 758, identity, 'g');
})();

/* ---------- panel h ---------- */
function hexRgb(h) { return [parseInt(h.slice(1, 3), 16), parseInt(h.slice(3, 5), 16), parseInt(h.slice(5, 7), 16)]; }
function colorAt(v) {
  v = Math.max(0, Math.min(120, v));
  let i = 0;
  while (i < cmapValues.length - 2 && v > cmapValues[i + 1]) i++;
  const t = (v - cmapValues[i]) / (cmapValues[i + 1] - cmapValues[i]);
  const a = hexRgb(cmapColors[i]), b = hexRgb(cmapColors[i + 1]);
  return 'rgb(' + Math.round(a[0] + (b[0] - a[0]) * t) + ',' + Math.round(a[1] + (b[1] - a[1]) * t) + ',' + Math.round(a[2] + (b[2] - a[2]) * t) + ')';
}
function cr(p0, p1, p2, p3, t) {
  return 0.5 * (2 * p1 + (p2 - p0) * t + (2 * p0 - 5 * p1 + 4 * p2 - p3) * t * t + (3 * p1 - p0 - 3 * p2 + p3) * t * t * t);
}
function sample(m, row, col) {
  const nr = m.length, nc = m[0].length;
  row = Math.max(0, Math.min(nr - 1.001, row));
  col = Math.max(0, Math.min(nc - 1.001, col));
  const r = Math.floor(row), c = Math.floor(col), tr = row - r, tc = col - c;
  const rowVal = ri => {
    const R = m[Math.max(0, Math.min(nr - 1, ri))];
    return cr(R[Math.max(c - 1, 0)], R[c], R[Math.min(c + 1, nc - 1)], R[Math.min(c + 2, nc - 1)], tc);
  };
  return cr(rowVal(r - 1), rowVal(r), rowVal(r + 1), rowVal(r + 2), tr);
}
function contours(F, nx, ny, step, x0, y0, level) {
  let d = '';
  const itp = (a, b) => (level - a) / (b - a);
  for (let j = 0; j < ny - 1; j++) for (let i = 0; i < nx - 1; i++) {
    const a = F[j][i], b = F[j][i + 1], c = F[j + 1][i + 1], e = F[j + 1][i];
    const pts = [];
    if ((a < level) !== (b < level)) pts.push([i + itp(a, b), j]);
    if ((b < level) !== (c < level)) pts.push([i + 1, j + itp(b, c)]);
    if ((e < level) !== (c < level)) pts.push([i + itp(e, c), j + 1]);
    if ((a < level) !== (e < level)) pts.push([i, j + itp(a, e)]);
    for (let q = 0; q + 1 < pts.length; q += 2) {
      d += 'M' + f1(x0 + pts[q][0] * step) + ' ' + f1(y0 + pts[q][1] * step) + 'L' + f1(x0 + pts[q + 1][0] * step) + ' ' + f1(y0 + pts[q + 1][1] * step);
    }
  }
  return d;
}
(function () {
  const gradient = document.getElementById('cbar');
  cmapValues.forEach((v, i) => {
    const s = document.createElementNS(NS, 'stop');
    s.setAttribute('offset', v / 120);
    s.setAttribute('stop-color', cmapColors[i]);
    gradient.appendChild(s);
  });
  const X0 = 654.3, X1 = 879.3, SX = 15.88;
  const sx = k => X0 + k * SX;
  const maps = [
    [map300, 276.7, 422, 288.3, 404, 'rup-300'],
    [map550, 434, 579, 447.7, 563.3, 'rup-550'],
    [map800, 596, 740, 596, 711, 'rup-800']];
  maps.forEach(mp => {
    const m = mp[0], top = mp[1], bot = mp[2], name = mp[5];
    const sy = linear(4, 0.2, top, bot);
    const invY = y => 4 - (y - top) / (bot - top) * 3.8;
    const g = group('wavelet-map-' + name);
    const step = 3;
    for (let y = top; y < bot; y += step) for (let x = X0; x < X1; x += step) {
      const k = (x + step / 2 - X0) / SX, R = invY(y + step / 2);
      const v = sample(m, (4 - R) / 0.25, k);
      const cell = el('rect', {x: x.toFixed(1), y: y.toFixed(1), width: Math.min(step + .4, X1 - x), height: Math.min(step + .4, bot - y), fill: colorAt(v)}, 'wavelet-cell', g);
      cell.setAttribute('shape-rendering', 'crispEdges');
    }
    const cs = 2;
    const nx = Math.floor((X1 - X0) / cs) + 1, ny = Math.floor((bot - top) / cs) + 1;
    const F = [];
    for (let j = 0; j < ny; j++) {
      const row = [];
      for (let i = 0; i < nx; i++) {
        const k = i * cs / SX, R = invY(top + j * cs);
        row.push(sample(m, (4 - R) / 0.25, k));
      }
      F.push(row);
    }
    lightLevels.forEach(l => {
      el('path', {d: contours(F, nx, ny, cs, X0, top, l), fill: 'none', stroke: '#fff', 'stroke-opacity': .28, 'stroke-width': .6}, 'wavelet-light-contour', g);
    });
    darkLevels.forEach(l => {
      el('path', {d: contours(F, nx, ny, cs, X0, top, l), fill: 'none', stroke: '#272c31', 'stroke-width': .95}, 'wavelet-contour', g);
    });
    frame(X0, top, X1, bot, 'wavelet-frame-' + name);
    yTicks(sy, X0, hYTicks, [.5, 1.5, 2.5, 3.5], 645, identity, 'h-' + name);
    /* colour bar */
    const cbTop = mp[3], cbBot = mp[4];
    const cb = group('colorbar-' + name);
    const cy = linear(0, 0.12, cbBot, cbTop);
    el('rect', {x: 882.3, y: cbTop, width: 15, height: cbBot - cbTop, fill: 'url(#cbar)'}, 'colorbar-ramp', cb);
    el('path', {d: 'M882.3 ' + cbTop + 'V' + cbBot + 'H897.3', fill: 'none', stroke: '#222', 'stroke-width': 1}, 'colorbar-edge', cb);
    cbarTicks.forEach(t => {
      el('line', {x1: 897.3, x2: 903, y1: cy(t), y2: cy(t), stroke: '#222', 'stroke-width': 1}, 'colorbar-tick', cb);
      tickLabel(907.5, cy(t) + 3.5, t === 0 ? '0' : t.toFixed(2), 'start', 'colorbar-tick-label', cb);
    });
  });
  xAxis(sx, 740, hXTicks, [1, 3, 5, 7, 9, 11, 13], 758, identity, 'h');
})();
</script>
</body>
</html>
